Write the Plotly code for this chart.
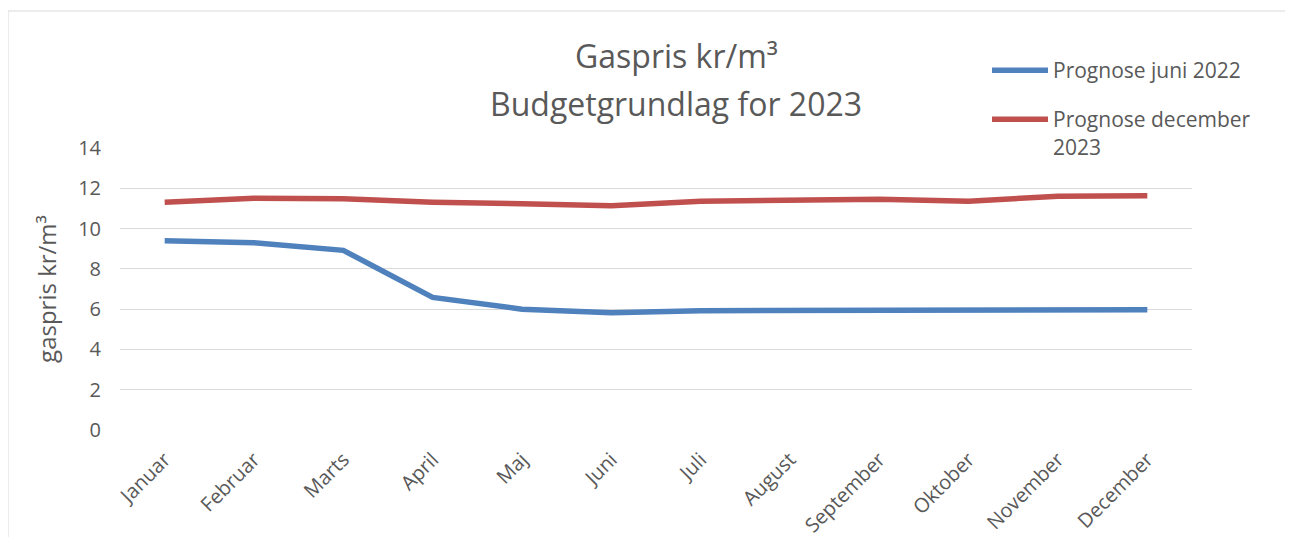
import plotly.graph_objects as go

# ---- data ----
months = ["Januar", "Februar", "Marts", "April", "Maj", "Juni",
          "Juli", "August", "September", "Oktober", "November", "December"]
prognose_juni_2022 = [9.39, 9.30, 8.92, 6.58, 6.00, 5.82, 5.92, 5.92, 5.95, 5.95, 5.92, 5.97]
prognose_december_2023 = [11.31, 11.51, 11.48, 11.31, 11.23, 11.13, 11.36, 11.39, 11.46, 11.36, 11.61, 11.63]
y_tick_values = [0, 2, 4, 6, 8, 10, 12, 14]
series_names = ["Prognose juni 2022", "Prognose december<br>2023"]

# ---- layout geometry (reference pixels; page body has an 8px margin) ----
OFF = 8
W, H = 1293 - OFF, 537 - OFF
PL, PR, PT, PB = 120, 1192, 148, 430          # plot area in reference pixels
L, T = PL - OFF, PT - OFF
R, B = W - (PR - OFF), H - (PB - OFF)
PW, PH = PR - PL, PB - PT


def px_x(px):
    return (px - PL) / PW


def px_y(py):
    return (PB - py) / PH


TEXT = "#595959"
FONT = "Open Sans"

fig = go.Figure()
fig.add_trace(go.Scatter(
    x=months, y=prognose_juni_2022, mode="lines", name=series_names[0],
    line=dict(color="#4F81BD", width=5.5), legend="legend"))
fig.add_trace(go.Scatter(
    x=months, y=prognose_december_2023, mode="lines", name=series_names[1],
    line=dict(color="#C0504D", width=5.5), legend="legend2"))

fig.update_layout(
    width=W, height=H,
    margin=dict(l=L, r=R, t=T, b=B, autoexpand=False),
    paper_bgcolor="white", plot_bgcolor="white",
    font=dict(family=FONT, color=TEXT, size=20),
    showlegend=True,
    legend=dict(x=px_x(987), y=px_y(50), xanchor="left", yanchor="top",
                bgcolor="rgba(255,255,255,0)", font=dict(size=21, color=TEXT, family=FONT),
                itemwidth=56, valign="top"),
    legend2=dict(x=px_x(987), y=px_y(99), xanchor="left", yanchor="top",
                 bgcolor="rgba(255,255,255,0)", font=dict(size=21, color=TEXT, family=FONT),
                 itemwidth=56, valign="top"),
    xaxis=dict(
        type="category", showgrid=False, zeroline=False, showline=False,
        ticks="", tickangle=-45, tickfont=dict(size=20, color=TEXT, family=FONT),
        range=[-0.5, len(months) - 0.5], ticklabelstandoff=13,
    ),
    yaxis=dict(
        range=[0, 14], tickvals=y_tick_values, showgrid=True, gridcolor="#D9D9D9",
        gridwidth=1.3, zeroline=False, showline=False, ticks="",
        tickfont=dict(size=20, color=TEXT, family=FONT), ticklabelstandoff=18,
        title=dict(text="gaspris kr/m³", font=dict(size=24, color=TEXT, family=FONT), standoff=14),
    ),
    annotations=[
        dict(text="Gaspris kr/m³", x=px_x(676), y=px_y(56), xref="paper", yref="paper",
             xanchor="center", yanchor="middle", showarrow=False,
             font=dict(size=32, color=TEXT, family=FONT)),
        dict(text="Budgetgrundlag for 2023", x=px_x(676), y=px_y(103), xref="paper", yref="paper",
             xanchor="center", yanchor="middle", showarrow=False,
             font=dict(size=32, color=TEXT, family=FONT)),
    ],
    shapes=[
        # chart frame
        dict(type="rect", xref="paper", yref="paper",
             x0=px_x(8), x1=px_x(1289), y0=px_y(545), y1=px_y(11),
             line=dict(color="#D9D9D9", width=1), fillcolor="rgba(0,0,0,0)", layer="below"),
        # white legend box area hiding the top gridline behind the legend
        dict(type="rect", xref="paper", yref="paper",
             x0=px_x(965), x1=px_x(1200), y0=px_y(153), y1=px_y(143),
             line=dict(width=0), fillcolor="white", layer="above"),
    ],
)

fig.write_html("out.html")
